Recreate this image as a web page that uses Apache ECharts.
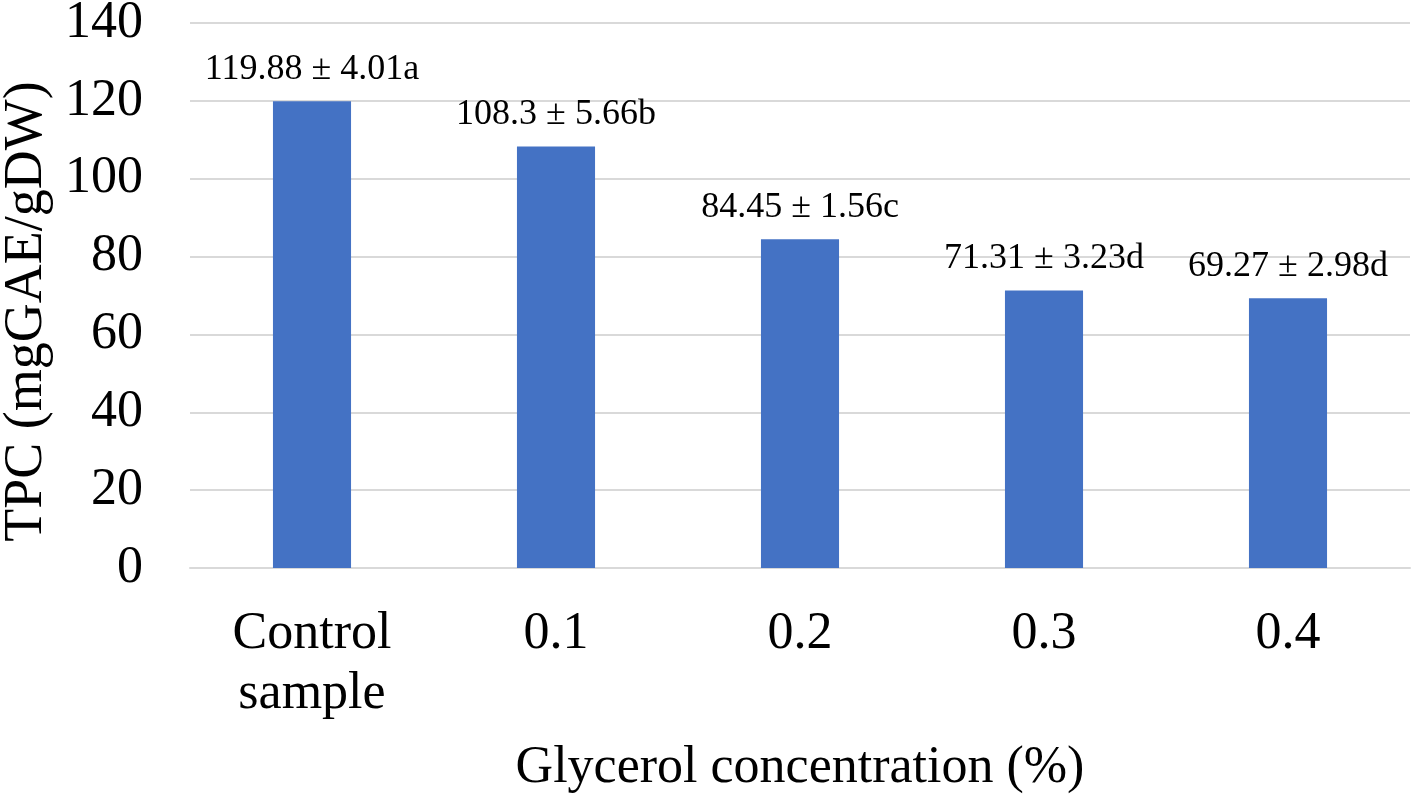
<!DOCTYPE html>
<html>
<head>
<meta charset="utf-8">
<script src="https://cdn.jsdelivr.net/npm/echarts@6/dist/echarts.min.js"></script>
<style>
html, body { margin: 0; padding: 0; background: #fff; }
#chart { width: 1414px; height: 796px; }
</style>
</head>
<body>
<div id="chart"></div>
<script>
var categories = ['Control\nsample', '0.1', '0.2', '0.3', '0.4'];
var tpcValues = [119.88, 108.3, 84.45, 71.31, 69.27];
var sdValues = ['4.01', '5.66', '1.56', '3.23', '2.98'];
var letters = ['a', 'b', 'c', 'd', 'd'];

var serif = '"Liberation Serif", "Times New Roman", serif';
var chart = echarts.init(document.getElementById('chart'));
chart.setOption({
	animation: false,
	grid: { left: 190, right: 4, top: 23, bottom: 228, containLabel: false, outerBoundsMode: 'none' },
	xAxis: {
		type: 'category',
		data: categories,
		name: 'Glycerol concentration (%)',
		nameLocation: 'middle',
		nameGap: 174,
		nameTextStyle: { fontFamily: serif, fontSize: 52, color: '#000' },
		axisLine: { lineStyle: { color: '#d9d9d9', width: 2 } },
		axisTick: { show: false },
		axisLabel: { fontFamily: serif, fontSize: 52, color: '#000', margin: 36, lineHeight: 60 }
	},
	yAxis: {
		type: 'value',
		min: 0,
		max: 140,
		interval: 20,
		name: 'TPC (mgGAE/gDW)',
		nameLocation: 'middle',
		nameGap: 135,
		nameTextStyle: { fontFamily: serif, fontSize: 54, color: '#000', padding: [0, 32, 0, 0] },
		axisLine: { show: false },
		axisTick: { show: false },
		axisLabel: { fontFamily: serif, fontSize: 52, color: '#000', margin: 47 },
		splitLine: { lineStyle: { color: '#d9d9d9', width: 2 } }
	},
	series: [{
		type: 'bar',
		data: tpcValues,
		barWidth: '32%',
		itemStyle: { color: '#4472C4' },
		label: {
			show: true,
			position: 'top',
			distance: 14,
			fontFamily: serif,
			fontSize: 36,
			color: '#000',
			formatter: function (p) {
				return p.value + ' \u00b1 ' + sdValues[p.dataIndex] + letters[p.dataIndex];
			}
		}
	}]
});
</script>
</body>
</html>
